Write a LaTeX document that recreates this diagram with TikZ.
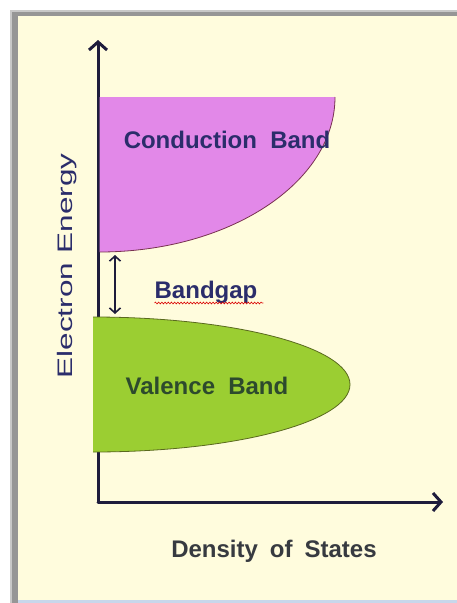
\documentclass[tikz,border=0pt]{standalone}
\usepackage{fontspec}
\setmainfont{Liberation Sans}
\usetikzlibrary{arrows.meta,decorations.pathmorphing}
\definecolor{cream}{RGB}{255,252,221}
\definecolor{framegray}{RGB}{150,150,150}
\definecolor{framelight}{RGB}{200,200,200}
\definecolor{edgeblue}{RGB}{200,215,235}
\definecolor{cbfill}{RGB}{226,136,232}
\definecolor{cbline}{RGB}{120,50,80}
\definecolor{vbfill}{RGB}{155,206,50}
\definecolor{vbline}{RGB}{90,105,30}
\definecolor{axiscol}{RGB}{30,28,60}
\definecolor{navy}{RGB}{43,45,107}
\definecolor{dgreen}{RGB}{45,74,45}
\definecolor{dgray}{RGB}{55,58,64}
\tikzset{
  axisline/.style={draw=axiscol,line width=3pt,line cap=round,line join=round,
    -{Straight Barb[length=8pt,width=18pt,line width=3pt]}},
  gaparrow/.style={draw=axiscol,line width=1.6pt,
    {Straight Barb[length=5pt,width=11pt,line width=1.6pt]}-{Straight Barb[length=5pt,width=11pt,line width=1.6pt]}},
  boldlabel/.style={font=\fontsize{24}{28}\selectfont\bfseries,anchor=base,inner sep=0pt},
}
\begin{document}
\begin{tikzpicture}[x=1pt,y=-1pt]
\useasboundingbox (0,0) rectangle (457,603);
% frame
\fill[framelight] (10,10) rectangle (457,603);
\fill[framegray] (12,12) rectangle (457,603);
\fill[cream] (18,16) rectangle (457,600);
\fill[edgeblue] (18,600) rectangle (457,603);
% coordinates
\coordinate (origin) at (98,502);
\coordinate (ytip) at (98,40);
\coordinate (xtip) at (443,502);
\coordinate (gaptop) at (115,255);
\coordinate (gapbot) at (115,314);
% axes
\draw[axisline] (origin) -- (ytip);
\draw[axisline] (origin) -- (xtip);
% conduction band
\fill[cbfill] (99.5,97) -- (335,97) .. controls (335,182.6) and (229.3,252) .. (99.5,252) -- cycle;
\draw[cbline,line width=0.8pt] (335,97) .. controls (335,182.6) and (229.3,252) .. (99.5,252);
% valence band
\fill[vbfill] (93,317) .. controls (235,317) and (350,347.2) .. (350,384.5)
  .. controls (350,421.8) and (235,452) .. (93,452) -- cycle;
\draw[vbline,line width=0.8pt] (93,317) .. controls (235,317) and (350,347.2) .. (350,384.5)
  .. controls (350,421.8) and (235,452) .. (93,452);
% bandgap arrow
\draw[gaparrow] (gaptop) -- (gapbot);
% labels
\node[boldlabel,text=navy] (cb) at (227,148) {Conduction\hspace{0.55em}Band};
\node[boldlabel,text=navy] (bg) at (206,298) {Bandgap};
\draw[red!85!black,line width=0.6pt,decorate,decoration={snake,amplitude=0.9pt,segment length=3.2pt}]
  (bg.base west) ++(0,5) -- ++(109,0);
\node[boldlabel,text=dgreen] (vb) at (207,394) {Valence\hspace{0.55em}Band};
\node[boldlabel,text=dgray] (dos) at (274,557) {Density\hspace{0.5em}of\hspace{0.5em}States};
\node[anchor=base,inner sep=0pt,rotate=90,text=navy,font=\fontsize{21}{24}\selectfont] (ee) at (72,266)
  {\scalebox{1.5}[1]{Electron\hspace{0.3em}Energy}};
\end{tikzpicture}
\end{document}
